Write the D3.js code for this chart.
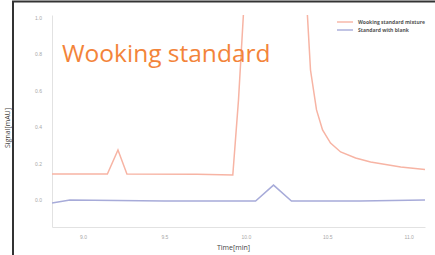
<!DOCTYPE html>
<html>
<head>
<style>
  body { margin: 0; background: #fff; }
  svg { display: block; font-family: "Open Sans", sans-serif; }
  .tick text { fill: #a8a8a8; font-size: 5px; }
  .domain, .tick line { stroke: #e2e2e2; }
</style>
</head>
<body>
<script src="https://d3js.org/d3.v7.min.js"></script>
<script>
  const width = 435, height = 255;
  const margin = { top: 15, right: 10, bottom: 28, left: 52 };

  // red trace: working standard (time, signal)
  const redTime  = [8.81, 9.15, 9.215, 9.27, 9.70, 9.92, 9.955, 9.985, 10.00, 10.36, 10.378, 10.397, 10.434, 10.471, 10.52, 10.582, 10.674, 10.766, 10.951, 11.10];
  const redValue = [0.143, 0.143, 0.275, 0.143, 0.142, 0.137, 0.55, 1.016, 1.2, 1.2, 1.016, 0.714, 0.495, 0.385, 0.313, 0.264, 0.231, 0.209, 0.181, 0.167];
  // blue trace: blank
  const blueTime  = [8.81, 8.92, 9.50, 10.06, 10.17, 10.28, 10.70, 11.10];
  const blueValue = [-0.016, 0.0, -0.005, -0.005, 0.082, -0.005, -0.005, 0.0];

  const xTicks = [9.0, 9.5, 10.0, 10.5, 11.0];
  const yTicks = [0.0, 0.2, 0.4, 0.6, 0.8, 1.0];
  const legendLabels = ["Wooking standard mixture", "Standard with blank"];
  const colors = ["#f7b4a4", "#a7abd9"];

  const svg = d3.select("body").append("svg")
      .attr("width", width).attr("height", height);

  const x = d3.scaleLinear().domain([8.81, 11.10]).range([margin.left, width - margin.right]);
  const y = d3.scaleLinear().domain([-0.148, 1.016]).range([height - margin.bottom, margin.top]);

  // frame
  svg.append("path")
      .attr("d", `M13,${height} V1.5 H${width}`)
      .attr("fill", "none").attr("stroke", "#333").attr("stroke-width", 2);

  svg.append("defs").append("clipPath").attr("id", "plot")
    .append("rect")
      .attr("x", margin.left).attr("y", margin.top)
      .attr("width", width - margin.left - margin.right)
      .attr("height", height - margin.top - margin.bottom);

  svg.append("g")
      .attr("transform", `translate(0,${height - margin.bottom})`)
      .call(d3.axisBottom(x).tickValues(xTicks).tickFormat(d3.format(".1f")).tickSize(0).tickPadding(8));

  svg.append("g")
      .attr("transform", `translate(${margin.left},0)`)
      .call(d3.axisLeft(y).tickValues(yTicks).tickFormat(d3.format(".1f")).tickSize(0).tickPadding(10));

  const line = d3.line().x(d => x(d[0])).y(d => y(d[1]));
  const series = [d3.zip(redTime, redValue), d3.zip(blueTime, blueValue)];

  svg.append("g").attr("clip-path", "url(#plot)")
    .selectAll("path").data(series).join("path")
      .attr("d", line)
      .attr("fill", "none")
      .attr("stroke", (d, i) => colors[i])
      .attr("stroke-width", 1.5);

  // title
  svg.append("text")
      .attr("x", 62).attr("y", 62)
      .attr("fill", "#f3843a")
      .style("font-size", "24.5px")
      .text("Wooking standard");

  // axis labels
  svg.append("text")
      .attr("x", (margin.left + width - margin.right) / 2 - 5).attr("y", 250)
      .attr("text-anchor", "middle")
      .style("font-size", "7px").attr("fill", "#444")
      .text("Time[min]");

  svg.append("text")
      .attr("transform", "translate(10,128) rotate(-90)")
      .attr("text-anchor", "middle")
      .style("font-size", "7px").attr("fill", "#444")
      .text("Signal[mAU]");

  // legend
  const legend = svg.append("g").attr("transform", "translate(337,22)");
  legendLabels.forEach((t, i) => {
    const g = legend.append("g").attr("transform", `translate(0,${i * 8})`);
    g.append("line").attr("x1", 0).attr("x2", 16)
      .attr("stroke", colors[i]).attr("stroke-width", 1.4);
    g.append("text").attr("x", 21).attr("y", 2)
      .style("font-size", "5px").style("font-weight", "bold").attr("fill", "#555")
      .text(t);
  });
</script>
</body>
</html>
